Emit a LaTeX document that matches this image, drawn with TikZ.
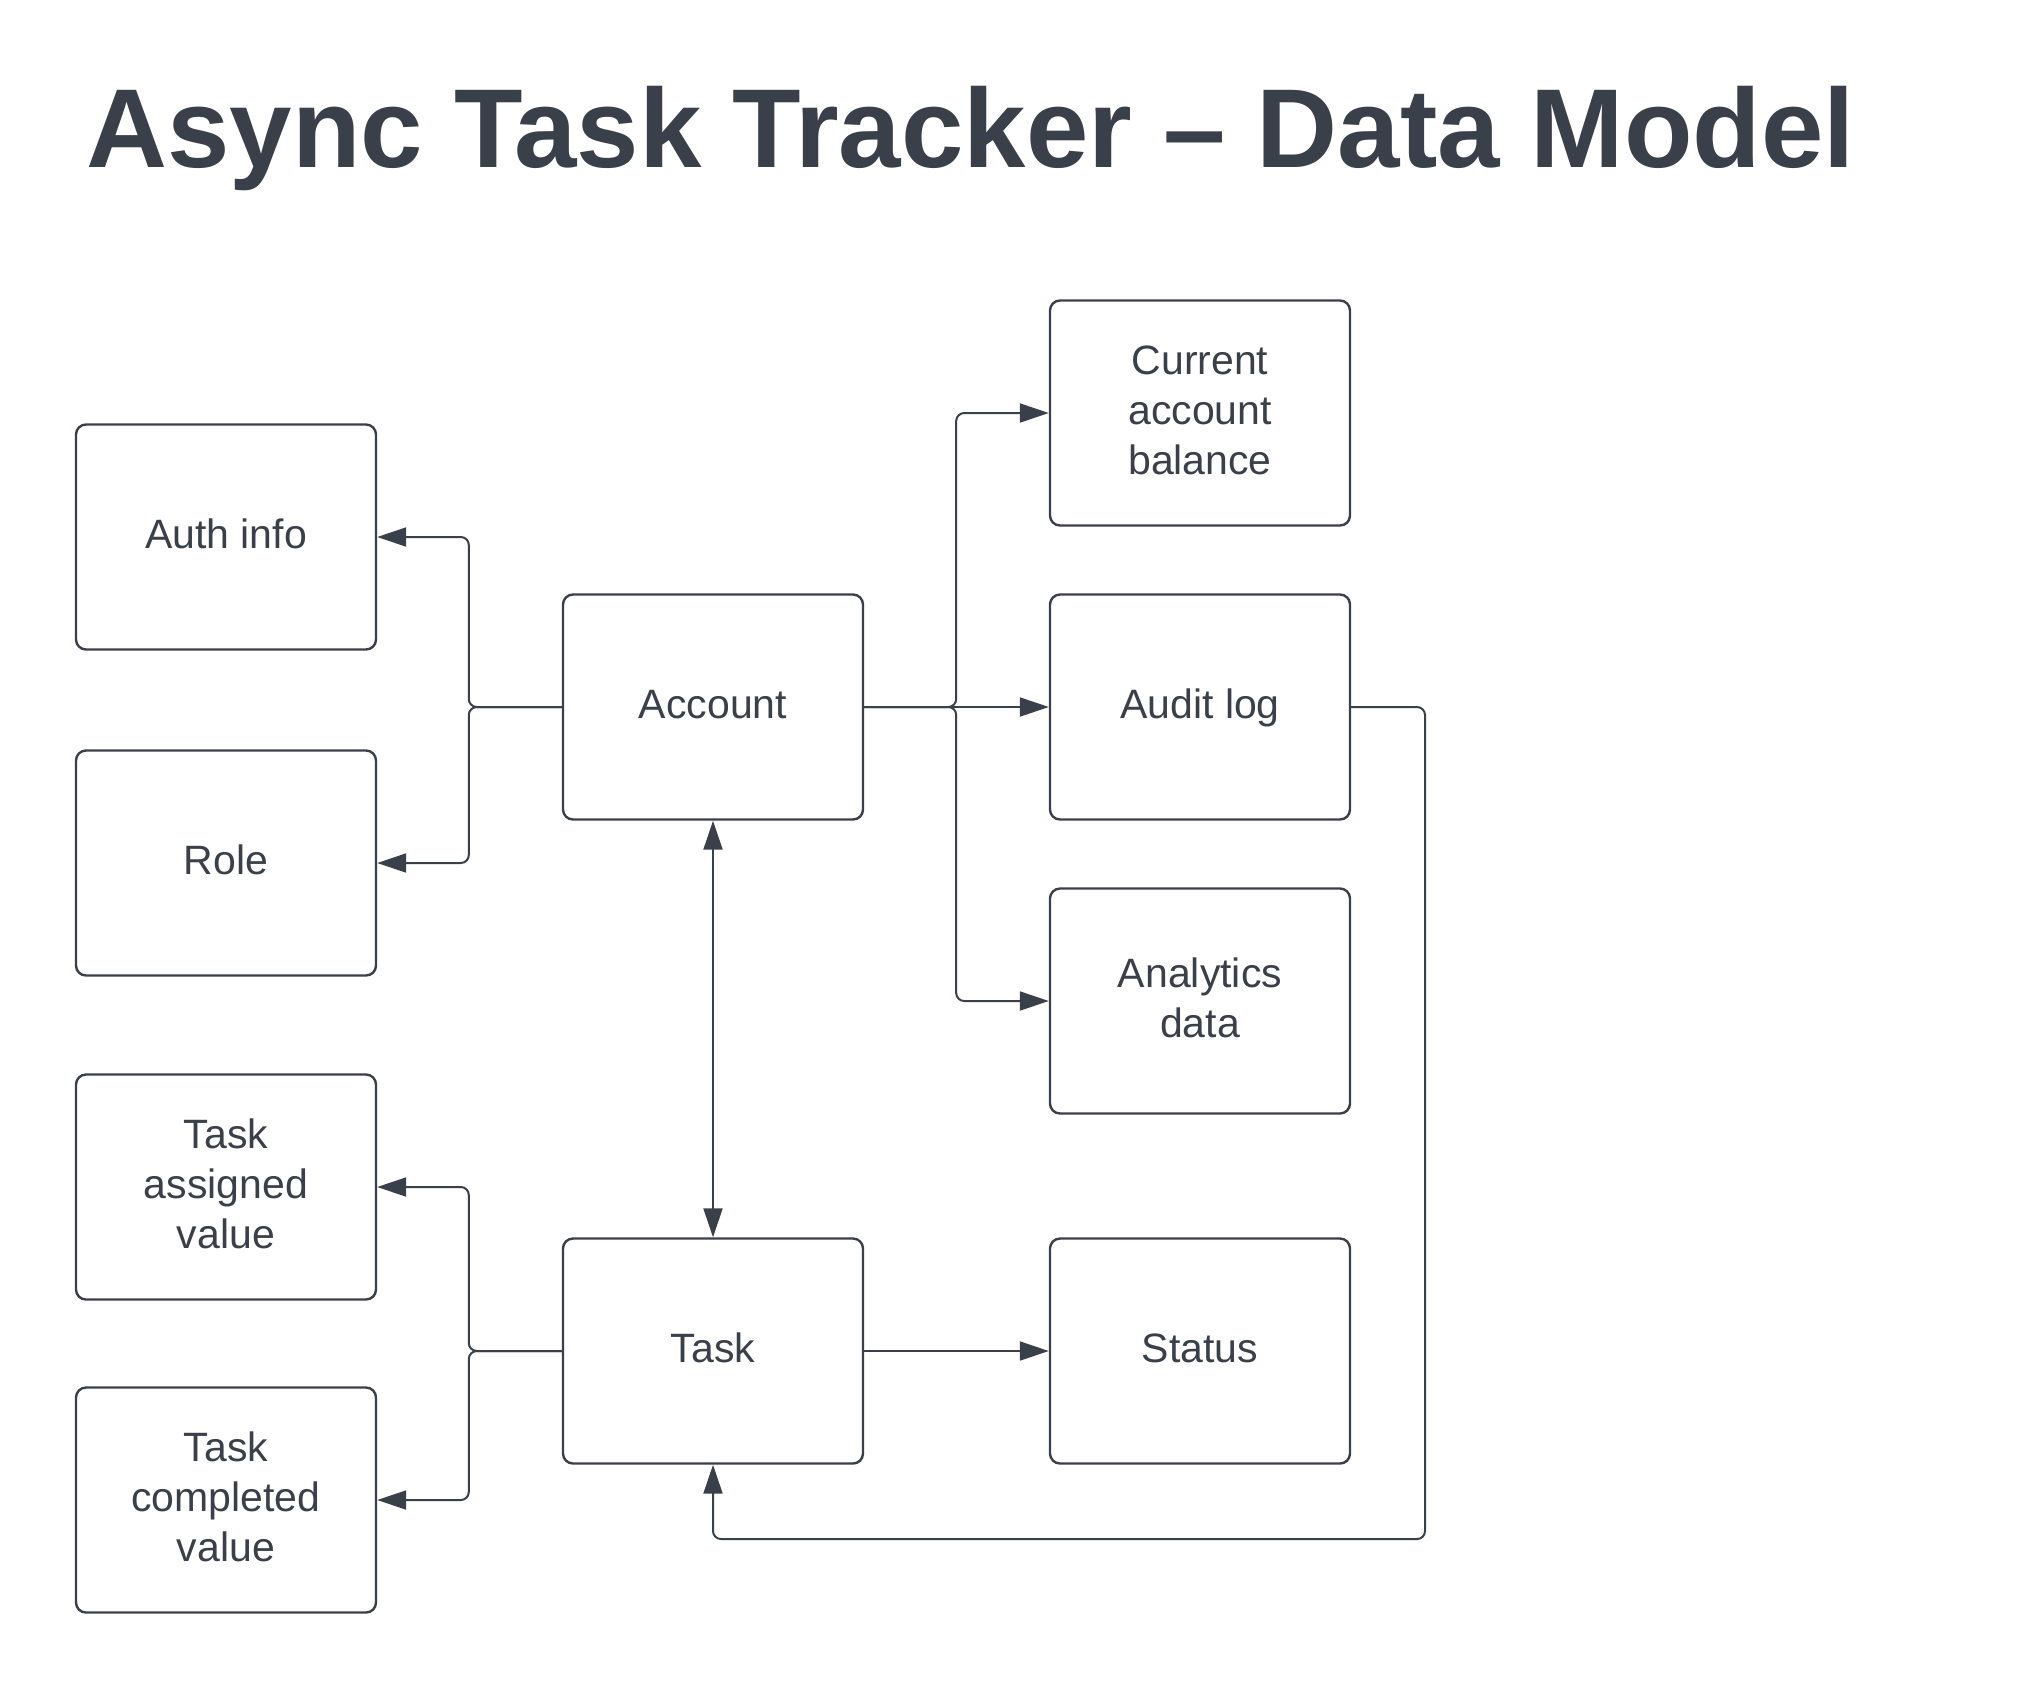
\documentclass[tikz,border=0pt]{standalone}
\usepackage{fontspec}
\setmainfont{Liberation Sans}
\usetikzlibrary{arrows.meta}
\definecolor{ink}{HTML}{3A404A}
\begin{document}
\begin{tikzpicture}
	[x=0.5pt,y=-0.5pt,
	>={Triangle[length=14.5pt,width=9.5pt]},
	box/.style={draw=ink,line width=1.2pt,rounded corners=5pt,minimum width=150pt,minimum height=112.5pt,align=center,text depth=3pt,text=ink,font=\fontsize{20.5}{25}\selectfont},
	link/.style={draw=ink,line width=1pt,rounded corners=4pt,->},]
	\useasboundingbox (0,0) rectangle (2033,1688);
	\node[anchor=base west,inner sep=0pt,text=ink,font=\fontsize{56.1}{60}\selectfont\bfseries](title) at (86,167){Async Task Tracker – Data Model};
	% left column
	\node[box](auth) at (226,537){Auth info};
	\node[box](role) at (226,863){Role};
	\node[box](assigned) at (226,1187){Task\\assigned\\value};
	\node[box](completed) at (226,1500){Task\\completed\\value};
	% middle column
	\node[box](acc) at (713,707){Account};
	\node[box](task) at (713,1351){Task};
	% right column
	\node[box](balance) at (1200,413){Current\\account\\balance};
	\node[box](audit) at (1200,707){Audit log};
	\node[box](analytics) at (1200,1001){Analytics\\data};
	\node[box](status) at (1200,1351){Status};
	\coordinate (loop) at (1425,1539);
	\draw[link](acc.west)--++(-93,0)|-(auth.east);
	\draw[link](acc.west)--++(-93,0)|-(role.east);
	\draw[link](acc.east)--++(92,0)|-(balance.west);
	\draw[link](acc.east)--(audit.west);
	\draw[link](acc.east)--++(92,0)|-(analytics.west);
	\draw[link,<->](acc.south)--(task.north);
	\draw[link](task.west)--++(-93,0)|-(assigned.east);
	\draw[link](task.west)--++(-93,0)|-(completed.east);
	\draw[link](task.east)--(status.west);
	\draw[link](audit.east)-|(loop)-|(task.south);
\end{tikzpicture}
\end{document}
